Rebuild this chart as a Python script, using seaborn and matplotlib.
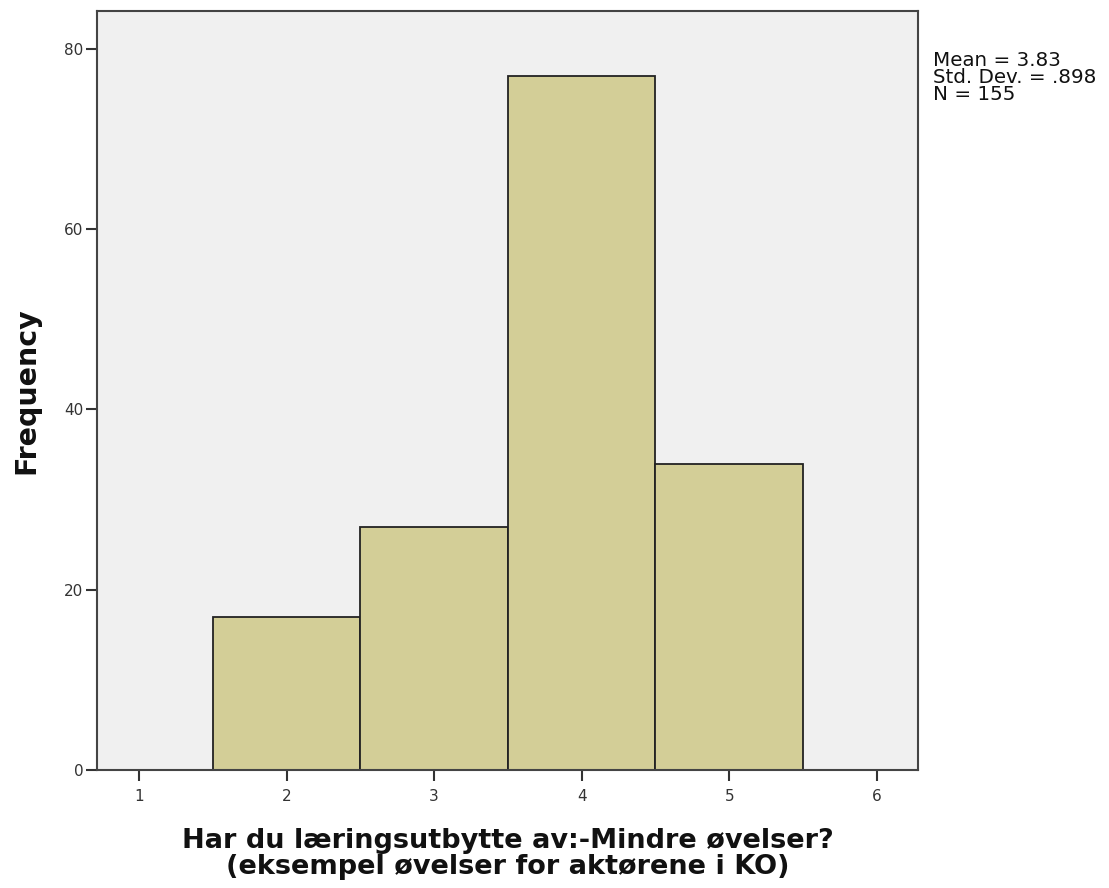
import numpy as np
import pandas as pd
import matplotlib
matplotlib.use("Agg")
import matplotlib.pyplot as plt
import seaborn as sns

# answers on the 1-6 scale and how many gave each
values = [2, 3, 4, 5]
counts = [17, 27, 77, 34]
xticks = [1, 2, 3, 4, 5, 6]
yticks = [0, 20, 40, 60, 80]
stats_text = "Mean = 3.83\nStd. Dev. = .898\nN = 155"
xlabel = "Har du læringsutbytte av:-Mindre øvelser?\n(eksempel øvelser for aktørene i KO)"

df = pd.DataFrame({"svar": values, "antall": counts})

sns.set_style("white")
plt.rcParams["font.family"] = ["DejaVu Sans"]

fig = plt.figure(figsize=(11.09, 8.88), dpi=100)
ax = fig.add_axes([0.0875, 0.1329, 0.7403, 0.8547])
ax.set_facecolor("#f0f0f0")

sns.histplot(data=df, x="svar", weights="antall", bins=[1.5, 2.5, 3.5, 4.5, 5.5],
             color="#d3ce97", alpha=1, edgecolor="#222222", linewidth=1.3, ax=ax)

ax.set_xlim(0.715, 6.28)
ax.set_ylim(0, 84.2)
ax.set_xticks(xticks)
ax.set_yticks(yticks)
ax.tick_params(axis="both", direction="out", length=8, width=1.5, color="#333333",
               labelsize=11, labelcolor="#333333", bottom=True, left=True)
ax.tick_params(axis="x", pad=6)
ax.tick_params(axis="y", pad=2)
for s in ax.spines.values():
    s.set_color("#444444")
    s.set_linewidth(1.5)

ax.set_xlabel(xlabel, fontsize=19.5, fontweight="bold", labelpad=17, linespacing=1.02,
              color="#111111")
ax.set_ylabel("Frequency", fontsize=20.5, fontweight="bold", labelpad=17, color="#111111")

fig.text(0.841, 0.943, stats_text, fontsize=14.3, va="top", ha="left", linespacing=0.88,
         color="#111111")

fig.savefig("out.png", dpi=100)
